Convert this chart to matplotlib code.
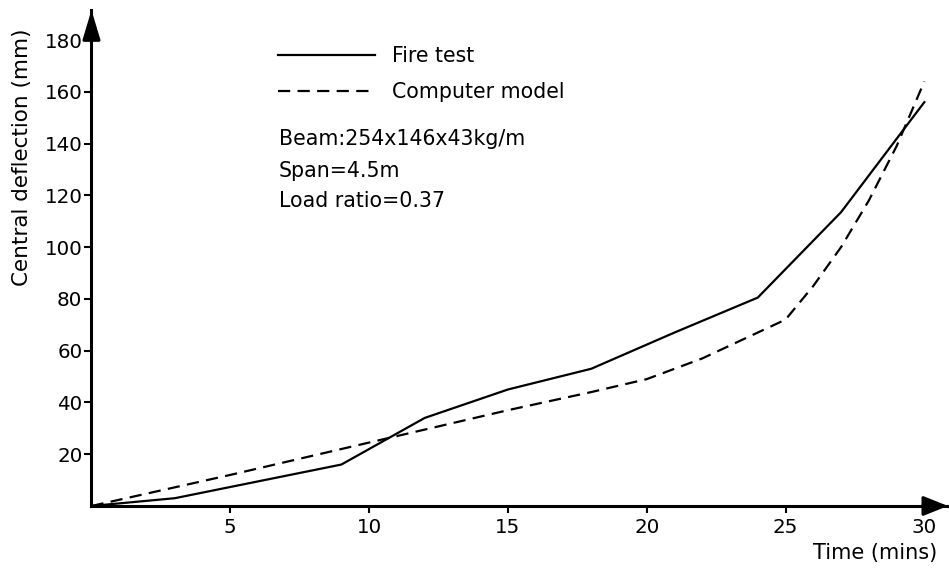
import matplotlib
matplotlib.use("Agg")
import matplotlib.pyplot as plt
from matplotlib.lines import Line2D

# ---- data ----
fire_t = [0, 3, 9, 12, 15, 18, 21, 24, 27, 30]
fire_y = [0, 3, 16, 34, 45, 53, 67, 80.5, 113.5, 156]

model_t = [0, 5, 10, 15, 18, 20, 22, 24, 25, 26, 27, 28, 29, 30]
model_y = [0, 12, 24.5, 37, 44, 49, 57, 67, 72, 85, 100, 118, 139, 164]

x_ticks = [5, 10, 15, 20, 25, 30]
y_ticks = [20, 40, 60, 80, 100, 120, 140, 160, 180]

series_labels = ["Fire test", "Computer model"]
notes = ["Beam:254x146x43kg/m", "Span=4.5m", "Load ratio=0.37"]
x_label = "Time (mins)"
y_label = "Central deflection (mm)"

plt.rcParams['font.family'] = ['DejaVu Sans']

fig = plt.figure(figsize=(9.49, 5.68), dpi=100)
ax = fig.add_axes([0.0964, 0.1092, 0.9025, 0.8732])

lw = 1.6
ax.plot(fire_t, fire_y, color='black', lw=lw, solid_joinstyle='miter')
ax.plot(model_t, model_y, color='black', lw=lw, linestyle=(0, (5.5, 3.3)))

ax.set_xlim(0, 30.85)
ax.set_ylim(0, 191.6)

for s in ['top', 'right']:
    ax.spines[s].set_visible(False)
for s in ['left', 'bottom']:
    ax.spines[s].set_linewidth(2.2)

ax.set_xticks(x_ticks)
ax.set_yticks(y_ticks)
ax.tick_params(axis='both', labelsize=14.3, width=1.5, length=5, direction='out')
ax.tick_params(axis='y', pad=1.5)
ax.tick_params(axis='x', pad=4)

# arrow heads at axis ends
ax.annotate('', xy=(0, 1), xytext=(0, 0.94), xycoords='axes fraction',
            arrowprops=dict(arrowstyle='-|>,head_length=0.9,head_width=0.27',
                            color='black', lw=2.2, shrinkA=0, shrinkB=0,
                            mutation_scale=20), annotation_clip=False)
ax.annotate('', xy=(1, 0), xytext=(0.97, 0), xycoords='axes fraction',
            arrowprops=dict(arrowstyle='-|>,head_length=0.75,head_width=0.3',
                            color='black', lw=2.2, shrinkA=0, shrinkB=0,
                            mutation_scale=20), annotation_clip=False)

ax.set_xlabel(x_label, fontsize=15, ha='right', va='center')
ax.xaxis.set_label_coords(0.987, -0.095)
ax.set_ylabel(y_label, fontsize=15.5, va='center')
ax.yaxis.set_label_coords(-0.081, 0.704)

handles = [Line2D([], [], color='black', lw=lw),
           Line2D([], [], color='black', lw=lw, linestyle=(0, (5.5, 3.3)))]
ax.legend(handles, series_labels, loc='upper left', bbox_to_anchor=(0.2177, 0.9275),
          frameon=False, fontsize=14.8, handlelength=4.7, handletextpad=0.87,
          labelspacing=0.80, borderpad=0, borderaxespad=0)

note_y = [0.7278, 0.6639, 0.6034]
for txt, yy in zip(notes, note_y):
    ax.text(0.219, yy, txt, transform=ax.transAxes, fontsize=14.8,
            ha='left', va='baseline')

fig.savefig('out.png', dpi=100)
